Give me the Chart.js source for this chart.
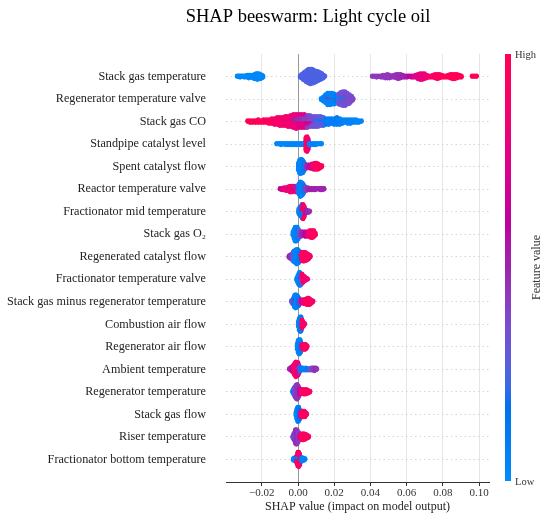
<!DOCTYPE html>
<html>
<head>
<meta charset="utf-8">
<script src="https://cdn.jsdelivr.net/npm/chart.js@4.4.1/dist/chart.umd.min.js"></script>
<style>
  html, body { margin: 0; padding: 0; background: #ffffff; }
  #c { display: block; }
</style>
</head>
<body>
<canvas id="c" width="550" height="525"></canvas>
<script>
// ---------------- DATA ----------------
// Each entry: [SHAP value, number of samples at that value, normalised feature value 0..1]
const chartTitle = "SHAP beeswarm: Light cycle oil";
const xAxisTitle = "SHAP value (impact on model output)";
const colorbarTitle = "Feature value";
const colorbarLabels = ["High", "Low"];
const xTickValues = [-0.02, 0.00, 0.02, 0.04, 0.06, 0.08, 0.10];
const xTickLabels = ["\u22120.02", "0.00", "0.02", "0.04", "0.06", "0.08", "0.10"];

const featureNames = [
  "Stack gas temperature",
  "Regenerator temperature valve",
  "Stack gas CO",
  "Standpipe catalyst level",
  "Spent catalyst flow",
  "Reactor temperature valve",
  "Fractionator mid temperature",
  "Stack gas O\u2082",
  "Regenerated catalyst flow",
  "Fractionator temperature valve",
  "Stack gas minus regenerator temperature",
  "Combustion air flow",
  "Regenerator air flow",
  "Ambient temperature",
  "Regenerator temperature",
  "Stack gas flow",
  "Riser temperature",
  "Fractionator bottom temperature"
];

const stackGasTemperature = [
  [-0.0336,2,0.03],[-0.0328,2,0.02],[-0.032,3,0.03],[-0.0312,2,0.02],[-0.0304,2,0.03],[-0.0296,3,0.02],
  [-0.0288,2,0.03],[-0.028,4,0.02],[-0.0272,5,0.03],[-0.0264,4,0.02],[-0.0256,3,0.03],[-0.0248,5,0.02],
  [-0.024,7,0.03],[-0.0232,8,0.02],[-0.0224,9,0.03],[-0.0216,8,0.02],[-0.0208,7,0.03],[-0.02,5,0.02],[-0.0194,3,0.03],
  [0.0012,3,0.26],[0.002,6,0.25],[0.0028,9,0.26],[0.0036,12,0.25],[0.0044,15,0.26],[0.0052,18,0.25],[0.006,20,0.26],
  [0.0068,21,0.25],[0.0076,20,0.26],[0.0084,19,0.25],[0.0092,17,0.26],[0.01,15,0.25],[0.0108,14,0.26],
  [0.0116,12,0.25],[0.0124,10,0.26],[0.0132,8,0.25],[0.014,5,0.26],[0.0148,2,0.25],
  [0.041,2,0.43],[0.0422,2,0.45],[0.0434,3,0.43],[0.0446,2,0.45],[0.0458,3,0.44],[0.047,4,0.45],[0.0482,5,0.43],
  [0.0494,6,0.45],[0.0506,5,0.44],[0.0518,3,0.46],[0.053,4,0.47],[0.0542,6,0.46],[0.0554,7,0.48],[0.0566,6,0.48],
  [0.0578,4,0.5],[0.059,3,0.52],[0.0602,3,0.55],[0.0614,2,0.6],[0.0626,3,0.65],[0.0638,3,0.7],[0.065,4,0.74],
  [0.0662,7,0.78],[0.0674,9,0.8],[0.0686,9,0.8],[0.0698,8,0.82],[0.071,5,0.85],[0.0722,3,0.88],[0.0734,3,0.9],
  [0.0746,4,0.92],[0.0758,6,0.93],[0.077,7,0.94],[0.0782,6,0.95],[0.0794,4,0.95],[0.0806,3,0.96],[0.0818,3,0.96],
  [0.083,4,0.97],[0.0842,6,0.97],[0.0854,7,0.97],[0.0866,7,0.98],[0.0878,6,0.98],[0.089,4,0.98],[0.0902,3,0.98],
  [0.0962,2,0.99],[0.0974,2,0.99],[0.0986,2,0.99]
];

const regeneratorTemperatureValve = [
  [0.0128,3,0.05],[0.014,7,0.05],[0.0152,12,0.05],[0.0164,15,0.05],[0.0164,2,0.95],[0.0176,14,0.05],
  [0.0176,3,0.95],[0.0188,16,0.05],[0.02,13,0.05],[0.02,2,0.95],[0.0212,9,0.1],[0.0224,11,0.3],[0.0224,4,0.05],
  [0.0236,14,0.33],[0.0236,4,0.08],[0.0248,16,0.33],[0.0248,4,0.1],[0.026,17,0.35],[0.026,3,0.1],
  [0.0272,16,0.37],[0.0284,13,0.35],[0.0296,8,0.37],[0.0304,3,0.38]
];

const stackGasCO = [
  [-0.0278,2,1],[-0.0265,3,1],[-0.025,3,0.98],[-0.0235,3,1],[-0.022,4,0.97],[-0.0205,3,0.98],[-0.019,4,0.96],
  [-0.0175,4,0.97],[-0.016,5,0.95],[-0.0145,6,0.92],[-0.013,7,0.9],[-0.0115,8,0.9],[-0.01,9,0.88],[-0.0085,9,0.88],
  [-0.007,10,0.86],[-0.0055,11,0.85],[-0.004,12,0.85],[-0.0025,10,0.82],[-0.0025,4,0.5],[-0.001,10,0.8],
  [-0.001,5,0.48],[0.0005,9,0.78],[0.0005,5,0.46],[0.002,8,0.75],[0.002,6,0.45],[0.0035,8,0.75],[0.0035,6,0.42],
  [0.005,6,0.7],[0.005,7,0.42],[0.0065,5,0.7],[0.0065,7,0.38],[0.008,3,0.7],[0.008,8,0.35],[0.0095,9,0.33],
  [0.0095,2,0.1],[0.011,8,0.3],[0.011,3,0.1],[0.0125,7,0.3],[0.0125,3,0.1],[0.014,6,0.25],[0.014,3,0.08],
  [0.0155,7,0.1],[0.017,7,0.08],[0.0185,6,0.1],[0.02,7,0.08],[0.0215,8,0.1],[0.023,7,0.08],[0.0245,5,0.06],
  [0.026,4,0.05],[0.0275,5,0.05],[0.029,5,0.05],[0.0305,4,0.04],[0.032,4,0.05],[0.0335,3,0.04],[0.035,2,0.04]
];

const standpipeCatalystLevel = [
  [-0.0118,2,0.03],[-0.0106,2,0.03],[-0.0094,3,0.03],[-0.0082,2,0.03],[-0.007,3,0.03],[-0.0058,3,0.03],
  [-0.0046,3,0.04],[-0.0034,3,0.03],[-0.0022,3,0.04],[-0.001,3,0.03],[0.0002,3,0.04],[0.0014,3,0.04],
  [0.0026,3,0.05],[0.0038,4,0.05],[0.0044,17,0.9],[0.0044,2,0.05],[0.005,21,0.95],[0.0056,15,0.85],
  [0.0062,3,0.05],[0.0074,3,0.04],[0.0086,3,0.04],[0.0098,3,0.04],[0.011,2,0.03],[0.0122,2,0.03],[0.013,2,0.03]
];

const spentCatalystFlow = [
  [0.0002,9,0.05],[0.0008,15,0.05],[0.0014,17,0.06],[0.002,16,0.05],[0.0026,15,0.08],[0.0032,11,0.1],
  [0.0038,6,0.2],[0.0046,5,0.45],[0.0054,4,0.5],[0.0062,4,0.55],[0.007,5,0.65],[0.0078,6,0.78],[0.0086,7,0.85],
  [0.0094,8,0.9],[0.0102,8,0.92],[0.011,7,0.95],[0.0118,5,0.95],[0.0126,3,0.95],[0.0132,2,0.96]
];

const reactorTemperatureValve = [
  [-0.0099,2,0.6],[-0.0088,3,0.75],[-0.0077,4,0.8],[-0.0066,5,0.8],[-0.0055,6,0.85],[-0.0044,7,0.9],
  [-0.0044,2,0.55],[-0.0033,6,0.88],[-0.0033,3,0.55],[-0.0022,5,0.85],[-0.0022,3,0.5],[-0.0011,5,0.8],
  [-0.0011,4,0.48],[0.0,6,0.3],[0.0,4,0.7],[0.0006,15,0.05],[0.0012,21,0.05],[0.0018,19,0.06],[0.0024,17,0.05],
  [0.003,13,0.1],[0.0036,8,0.2],[0.0044,5,0.42],[0.0054,4,0.48],[0.0064,3,0.5],[0.0074,3,0.52],[0.0084,3,0.5],
  [0.0094,3,0.5],[0.0104,2,0.52],[0.0114,2,0.5],[0.0124,3,0.52],[0.0134,3,0.5],[0.0144,2,0.52]
];

const fractionatorMidTemperature = [
  [0.0004,6,0.05],[0.001,10,0.05],[0.0016,12,0.06],[0.0022,10,0.1],[0.0022,6,0.9],[0.0028,8,0.1],
  [0.0028,9,0.92],[0.0034,5,0.15],[0.0034,8,0.9],[0.004,5,0.85],[0.0046,4,0.55],[0.0052,3,0.5],
  [0.0058,3,0.48],[0.0064,2,0.48]
];

const stackGasO2 = [
  [-0.0028,4,0.05],[-0.0022,9,0.05],[-0.0016,13,0.05],[-0.001,13,0.06],[-0.0004,12,0.08],[0.0002,9,0.1],
  [0.0008,6,0.3],[0.0016,5,0.45],[0.0024,4,0.5],[0.0032,4,0.55],[0.004,5,0.6],[0.0048,4,0.68],[0.0056,5,0.8],
  [0.0064,6,0.88],[0.0072,7,0.92],[0.008,7,0.95],[0.0088,6,0.95],[0.0096,3,0.95]
];

const regeneratedCatalystFlow = [
  [-0.005,3,0.5],[-0.0044,5,0.48],[-0.0038,7,0.45],[-0.0032,9,0.4],[-0.0026,10,0.3],[-0.0026,4,0.05],
  [-0.002,12,0.05],[-0.002,4,0.35],[-0.0014,18,0.05],[-0.0008,21,0.05],[-0.0002,20,0.06],[0.0004,17,0.08],
  [0.001,14,0.1],[0.0016,8,0.15],[0.0016,4,0.85],[0.0022,12,0.9],[0.0028,13,0.92],[0.0034,13,0.95],
  [0.004,12,0.95],[0.0046,11,0.93],[0.0052,9,0.9],[0.0058,7,0.92],[0.0064,4,0.9],[0.0068,2,0.9]
];

const fractionatorTemperatureValve = [
  [-0.0007,3,0.05],[-0.0002,7,0.05],[0.0003,11,0.05],[0.0008,14,0.06],[0.0013,13,0.1],[0.0018,8,0.2],
  [0.0018,3,0.9],[0.0023,5,0.3],[0.0023,5,0.92],[0.0028,5,0.9],[0.0028,2,0.4],[0.0033,6,0.95],
  [0.0038,4,0.9],[0.0043,3,0.9],[0.0048,2,0.85],[0.0054,1,0.8]
];

const stackGasMinusRegeneratorTemperature = [
  [-0.0037,2,0.4],[-0.0031,5,0.3],[-0.0025,8,0.2],[-0.0019,11,0.1],[-0.0019,3,0.45],[-0.0013,13,0.05],
  [-0.0013,3,0.48],[-0.0007,14,0.05],[-0.0001,12,0.08],[0.0005,9,0.15],[0.0011,5,0.45],[0.0017,4,0.55],
  [0.0023,4,0.68],[0.0029,5,0.8],[0.0035,5,0.85],[0.0041,6,0.9],[0.0047,7,0.92],[0.0053,8,0.95],
  [0.0059,8,0.95],[0.0065,7,0.93],[0.0071,5,0.95],[0.0077,3,0.92],[0.0083,2,0.9]
];

const combustionAirFlow = [
  [0.0002,8,0.05],[0.0007,17,0.05],[0.0012,21,0.06],[0.0017,17,0.1],[0.0017,3,0.9],[0.0022,8,0.9],
  [0.0022,4,0.3],[0.0027,8,0.92],[0.0032,5,0.9],[0.0037,2,0.88]
];

const regeneratorAirFlow = [
  [-0.0004,8,0.05],[0.0001,16,0.05],[0.0006,19,0.06],[0.0011,18,0.08],[0.0016,13,0.1],[0.0021,6,0.5],
  [0.0026,6,0.9],[0.0031,7,0.95],[0.0036,7,0.95],[0.0041,7,0.93],[0.0046,5,0.95],[0.0051,2,0.9]
];

const ambientTemperature = [
  [-0.0048,2,0.5],[-0.0042,4,0.48],[-0.0036,6,0.55],[-0.003,8,0.68],[-0.0024,12,0.82],[-0.0018,17,0.88],
  [-0.0012,21,0.92],[-0.0006,19,0.9],[0.0,14,0.78],[0.0,4,0.45],[0.0006,8,0.48],[0.0006,3,0.1],[0.0012,5,0.3],
  [0.0018,4,0.1],[0.0026,4,0.08],[0.0034,3,0.1],[0.0042,4,0.05],[0.005,3,0.1],[0.0058,3,0.2],[0.0066,3,0.3],
  [0.0074,4,0.36],[0.0082,4,0.42],[0.009,5,0.45],[0.0098,4,0.48],[0.0104,2,0.45]
];

const regeneratorTemperature = [
  [-0.0029,4,0.1],[-0.0023,10,0.2],[-0.0017,15,0.33],[-0.0011,19,0.42],[-0.0005,21,0.45],[0.0001,17,0.46],
  [0.0007,11,0.5],[0.0013,7,0.65],[0.0019,6,0.82],[0.0025,6,0.9],[0.0031,7,0.95],[0.0037,7,0.95],
  [0.0043,7,0.95],[0.0049,6,0.93],[0.0055,5,0.95],[0.0061,3,0.92],[0.0066,2,0.9]
];

const stackGasFlow = [
  [-0.0011,6,0.05],[-0.0006,14,0.05],[-0.0001,19,0.06],[0.0004,18,0.08],[0.0009,13,0.15],[0.0014,7,0.55],
  [0.0019,7,0.88],[0.0024,8,0.95],[0.0029,8,0.95],[0.0034,8,0.93],[0.0039,7,0.95],[0.0044,4,0.9],[0.0048,2,0.9]
];

const riserTemperature = [
  [-0.0029,3,0.3],[-0.0024,8,0.38],[-0.0019,12,0.42],[-0.0014,17,0.45],[-0.0014,3,0.1],[-0.0009,19,0.48],
  [-0.0009,2,0.1],[-0.0004,19,0.46],[0.0001,15,0.44],[0.0006,10,0.4],[0.0011,6,0.65],[0.0016,7,0.82],
  [0.0021,8,0.9],[0.0026,9,0.95],[0.0031,9,0.95],[0.0036,8,0.95],[0.0041,7,0.93],[0.0046,6,0.95],
  [0.0051,4,0.92],[0.0056,3,0.9],[0.0059,2,0.9]
];

const fractionatorBottomTemperature = [
  [-0.0026,3,0.05],[-0.0021,4,0.05],[-0.0016,5,0.05],[-0.0011,6,0.08],[-0.0006,8,0.85],[-0.0006,3,0.05],
  [-0.0001,14,0.9],[-0.0001,4,0.1],[0.0004,15,0.92],[0.0004,4,0.05],[0.0009,12,0.9],[0.0009,3,0.1],
  [0.0014,7,0.85],[0.0019,5,0.1],[0.0024,5,0.05],[0.0029,4,0.05],[0.0034,3,0.05],[0.0039,2,0.05]
];

const featureRows = [
  stackGasTemperature, regeneratorTemperatureValve, stackGasCO, standpipeCatalystLevel,
  spentCatalystFlow, reactorTemperatureValve, fractionatorMidTemperature, stackGasO2,
  regeneratedCatalystFlow, fractionatorTemperatureValve, stackGasMinusRegeneratorTemperature,
  combustionAirFlow, regeneratorAirFlow, ambientTemperature, regeneratorTemperature,
  stackGasFlow, riserTemperature, fractionatorBottomTemperature
];

// ---------------- SHAP red_blue colormap (LCH interpolation, as in shap) ----------------
function lch2rgb(L, C, h) {
  const a = C * Math.cos(h), b = C * Math.sin(h);
  const fy = (L + 16) / 116, fx = fy + a / 500, fz = fy - b / 200;
  const finv = t => (t > 6 / 29 ? t * t * t : 3 * (6 / 29) * (6 / 29) * (t - 4 / 29));
  const X = 0.95047 * finv(fx), Y = finv(fy), Z = 1.08883 * finv(fz);
  let r = 3.2406 * X - 1.5372 * Y - 0.4986 * Z;
  let g = -0.9689 * X + 1.8758 * Y + 0.0415 * Z;
  let bb = 0.0557 * X - 0.2040 * Y + 1.0570 * Z;
  const gam = v => { v = Math.max(0, Math.min(1, v)); return v <= 0.0031308 ? 12.92 * v : 1.055 * Math.pow(v, 1 / 2.4) - 0.055; };
  return [Math.round(gam(r) * 255), Math.round(gam(g) * 255), Math.round(gam(bb) * 255)];
}
function redBlue(t) {
  t = Math.max(0, Math.min(1, t));
  const L = t < 0.5 ? 54 + (40 - 54) * (t / 0.5) : 40 + (54 - 40) * ((t - 0.5) / 0.5);
  const C = 70 + (90 - 70) * t;
  const h = 4.6588 + ((0.35470565 + 2 * Math.PI) - 4.6588) * t;
  const [r, g, b] = lch2rgb(L, C, h);
  return `rgb(${r},${g},${b})`;
}

// ---------------- beeswarm layout (same stacking rule as shap) ----------------
function swarmRow(entries, rowY) {
  const groups = new Map();
  entries.forEach(([x, n, c]) => {
    if (!groups.has(x)) groups.set(x, []);
    groups.get(x).push({ n, c });
  });
  const keys = Array.from(groups.keys()).sort((p, q) => p - q);
  const cols = [];
  let M = 0;
  keys.forEach(x => {
    const list = groups.get(x);
    const rem = list.map(e => e.n);
    const seq = [];
    let any = true;
    while (any) {
      any = false;
      list.forEach((e, i) => { if (rem[i] > 0) { seq.push(e.c); rem[i]--; any = true; } });
    }
    seq.forEach((c, layer) => {
      const k = Math.ceil(layer / 2) * ((layer % 2) * 2 - 1);
      M = Math.max(M, Math.abs(k));
      cols.push({ x, k, c });
    });
  });
  const s = 0.9 * 0.4 / (M + 1);
  return cols.map(p => ({ x: p.x, y: rowY + p.k * s, col: redBlue(p.c) }));
}

const nRows = featureNames.length;
const points = [];
featureRows.forEach((rows, i) => { swarmRow(rows, nRows - 1 - i).forEach(p => points.push(p)); });

// ---------------- chart ----------------
const FONT = "'Liberation Serif', 'Times New Roman', 'DejaVu Serif', serif";
Chart.defaults.font.family = FONT;

const zeroLinePlugin = {
  id: 'zeroLine',
  beforeDatasetsDraw(chart) {
    const { ctx, chartArea, scales } = chart;
    const x0 = Math.round(scales.x.getPixelForValue(0)) + 0.5;
    ctx.save();
    ctx.strokeStyle = '#999999';
    ctx.lineWidth = 1;
    ctx.beginPath();
    ctx.moveTo(x0, chartArea.top);
    ctx.lineTo(x0, chartArea.bottom);
    ctx.stroke();
    ctx.restore();
  }
};

const decorPlugin = {
  id: 'decor',
  afterDraw(chart) {
    const { ctx, chartArea } = chart;
    ctx.save();
    // title
    ctx.fillStyle = '#000000';
    ctx.font = `18.5px ${FONT}`;
    ctx.textAlign = 'center';
    ctx.textBaseline = 'alphabetic';
    ctx.fillText(chartTitle, 308, 22);
    // colour bar
    const bx = chartArea.right + 16, bw = 6;
    const top = chartArea.top, bot = chartArea.bottom - 1;
    const grad = ctx.createLinearGradient(0, bot, 0, top);
    for (let i = 0; i <= 40; i++) grad.addColorStop(i / 40, redBlue(i / 40));
    ctx.fillStyle = grad;
    ctx.fillRect(bx, top, bw, bot - top);
    ctx.fillStyle = '#333333';
    ctx.font = `10.5px ${FONT}`;
    ctx.textAlign = 'left';
    ctx.textBaseline = 'middle';
    ctx.fillText(colorbarLabels[0], bx + bw + 4, top + 1);
    ctx.fillText(colorbarLabels[1], bx + bw + 4, bot + 1);
    ctx.font = `12px ${FONT}`;
    ctx.translate(bx + bw + 26, (top + bot) / 2);
    ctx.rotate(-Math.PI / 2);
    ctx.textAlign = 'center';
    ctx.fillText(colorbarTitle, 0, 0);
    ctx.restore();
  }
};

new Chart(document.getElementById('c'), {
  type: 'scatter',
  data: {
    datasets: [{
      data: points,
      pointRadius: 2.4,
      pointHoverRadius: 2.4,
      pointBorderWidth: 0,
      borderWidth: 0,
      backgroundColor: ctx => (ctx.raw ? ctx.raw.col : '#000'),
    }]
  },
  options: {
    responsive: false,
    animation: false,
    events: [],
    layout: { padding: { left: 0, right: 61, top: 54, bottom: 0 } },
    plugins: { legend: { display: false }, tooltip: { enabled: false }, title: { display: false } },
    scales: {
      x: {
        type: 'linear',
        min: -0.03978,
        max: 0.1055,
        afterBuildTicks: s => { s.ticks = xTickValues.map(v => ({ value: v })); },
        afterFit: s => { s.height = 43; },
        ticks: {
          autoSkip: false, maxRotation: 0, padding: 2, color: '#333333',
          font: { size: 11, lineHeight: 1 },
          callback: (v, i) => xTickLabels[i]
        },
        grid: { color: '#e6e6e6', lineWidth: 1, drawTicks: true, tickLength: 4, tickColor: '#333333' },
        border: { display: true, color: '#333333', width: 1 },
        title: {
          display: true, text: xAxisTitle, color: '#222222',
          font: { size: 12, lineHeight: 1 }, padding: { top: 0, bottom: 12 }
        }
      },
      y: {
        type: 'linear',
        min: -1,
        max: nRows,
        afterBuildTicks: s => { s.ticks = featureNames.map((_, i) => ({ value: i })); },
        afterFit: s => { s.width = 226; },
        ticks: {
          autoSkip: false, padding: 20, color: '#222222',
          font: { size: 12.2 },
          callback: v => featureNames[nRows - 1 - v]
        },
        grid: { color: '#cccccc', lineWidth: 0.8, drawTicks: false },
        border: { display: false, dash: [1.5, 3] }
      }
    }
  },
  plugins: [zeroLinePlugin, decorPlugin]
});
</script>
</body>
</html>
